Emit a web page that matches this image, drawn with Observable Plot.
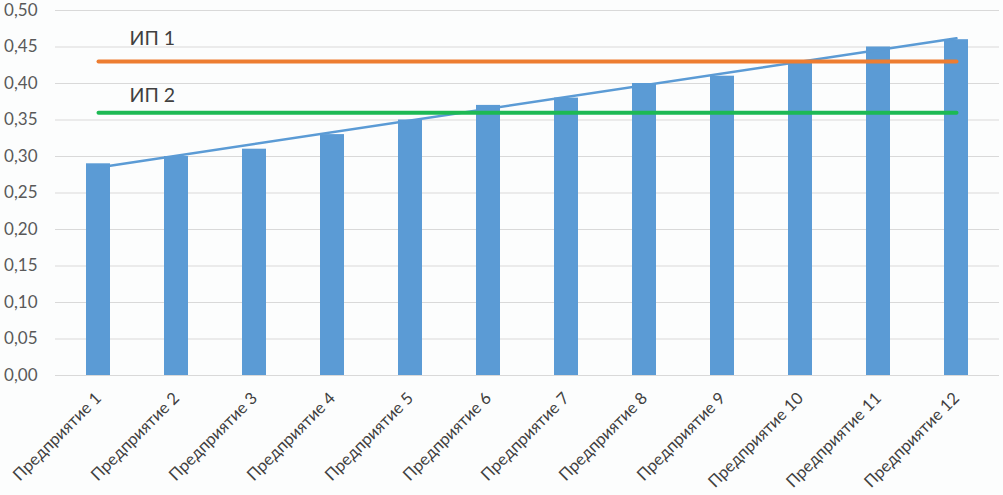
<!DOCTYPE html>
<html>
<head>
<meta charset="utf-8">
<script src="https://cdn.jsdelivr.net/npm/d3@7"></script>
<script src="https://cdn.jsdelivr.net/npm/@observablehq/plot@0.6"></script>
<style>
  html, body { margin: 0; padding: 0; background: #fcfdfd; }
  #chart svg { display: block; }
</style>
</head>
<body>
<div id="chart"></div>
<script>
const categories = ["Предприятие 1","Предприятие 2","Предприятие 3","Предприятие 4","Предприятие 5","Предприятие 6","Предприятие 7","Предприятие 8","Предприятие 9","Предприятие 10","Предприятие 11","Предприятие 12"];
const values = [0.29, 0.30, 0.31, 0.33, 0.35, 0.37, 0.38, 0.40, 0.41, 0.43, 0.45, 0.46];
const trendValues = [0.285, 0.462];          // trend line at first and last enterprise
const ip1Value = 0.43;
const ip2Value = 0.36;
const ipLabels = ["ИП 1", "ИП 2"];
const yTicks = [0, 0.05, 0.10, 0.15, 0.20, 0.25, 0.30, 0.35, 0.40, 0.45, 0.50];

const bars = categories.map((c, i) => ({cat: c, v: values[i]}));
const ends = [categories[0], categories[categories.length - 1]];
const trend = ends.map((c, i) => ({cat: c, v: trendValues[i]}));
const ip1 = ends.map(c => ({cat: c, v: ip1Value}));
const ip2 = ends.map(c => ({cat: c, v: ip2Value}));

const fmt = d => d.toFixed(2).replace(".", ",");
const font = "Lato, sans-serif";

const chart = Plot.plot({
  width: 1003,
  height: 495,
  marginLeft: 55,
  marginRight: 4,
  marginTop: 10,
  marginBottom: 120,
  style: {fontFamily: font, background: "#fcfdfd", color: "#595959"},
  x: {domain: categories, paddingInner: 0.69, paddingOuter: 0.343, label: null},
  y: {domain: [0, 0.5], label: null},
  marks: [
    Plot.ruleY(yTicks, {stroke: "#d9d9d9", strokeWidth: 1.2}),
    Plot.axisY({ticks: yTicks, tickFormat: fmt, tickSize: 0, tickPadding: 18, fontSize: 17, fill: "#595959", label: null}),
    Plot.axisX({tickSize: 0, tickRotate: -45, tickPadding: 20, fontSize: 16.5, fill: "#404040", label: null}),
    Plot.barY(bars, {x: "cat", y: "v", fill: "#5b9bd5"}),
    Plot.lineY(trend, {x: "cat", y: "v", stroke: "#5b9bd5", strokeWidth: 2.5}),
    Plot.lineY(ip1, {x: "cat", y: "v", stroke: "#ed7d31", strokeWidth: 4}),
    Plot.lineY(ip2, {x: "cat", y: "v", stroke: "#1db954", strokeWidth: 4}),
    Plot.text([ipLabels[0]], {x: () => categories[0], y: () => ip1Value, text: d => d, textAnchor: "start", dx: 31, dy: -23, fontSize: 19.5, fill: "#404040", fontFamily: font}),
    Plot.text([ipLabels[1]], {x: () => categories[0], y: () => ip2Value, text: d => d, textAnchor: "start", dx: 31, dy: -17, fontSize: 19.5, fill: "#404040", fontFamily: font})
  ]
});
document.getElementById("chart").append(chart);
</script>
</body>
</html>
